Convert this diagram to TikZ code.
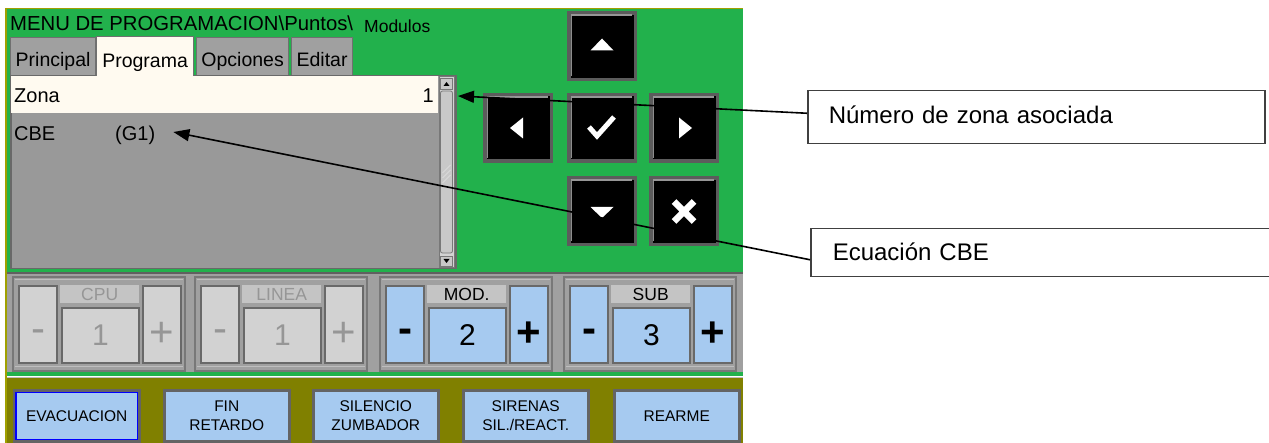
\documentclass[tikz,border=0pt]{standalone}
\usepackage{fontspec}
\setmainfont{Liberation Sans}
\usetikzlibrary{arrows.meta,calc}

\definecolor{panelgreen}{RGB}{34,177,76}
\definecolor{framegold}{RGB}{160,160,0}
\definecolor{olivebg}{RGB}{128,128,0}
\definecolor{listgray}{RGB}{153,153,153}
\definecolor{listedge}{RGB}{105,105,105}
\definecolor{tabgray}{RGB}{160,160,160}
\definecolor{tabedge}{RGB}{112,112,112}
\definecolor{cream}{RGB}{255,250,240}
\definecolor{panelgray}{RGB}{160,160,160}
\definecolor{paneldark}{RGB}{96,96,96}
\definecolor{grpedge}{RGB}{120,120,120}
\definecolor{grplight}{RGB}{190,190,190}
\definecolor{lightblue}{RGB}{166,202,240}
\definecolor{offgray}{RGB}{210,210,210}
\definecolor{offtext}{RGB}{150,150,150}
\definecolor{lblgray}{RGB}{196,196,196}
\definecolor{keyedge}{RGB}{105,105,105}
\definecolor{navedge}{RGB}{92,92,92}
\definecolor{navhi}{RGB}{150,150,150}
\definecolor{btnedge}{RGB}{100,100,100}
\definecolor{sbgray}{RGB}{200,200,200}
\definecolor{sbedge}{RGB}{120,120,120}
\definecolor{calloutedge}{RGB}{64,64,64}

\begin{document}
\begin{tikzpicture}[x=1pt,y=-1pt,
  tabbox/.style={draw=tabedge, line width=1.2pt, fill=tabgray, anchor=north west,
    inner sep=0pt, minimum height=38pt, text height=24pt, text depth=4pt,
    font=\fontsize{19.5}{22}\selectfont},
  rowtext/.style={inner sep=0pt, anchor=base west, font=\fontsize{20}{24}\selectfont},
  navbtn/.style={draw=navedge, fill=black, line width=3.5pt, minimum width=66.5pt,
    minimum height=66.5pt, inner sep=0pt},
  navhl/.style={draw=navhi, line width=2pt},
  navside/.style={draw=navedge!70, line width=1pt},
  grpframe/.style={draw=grpedge, line width=1.5pt, fill=panelgray},
  keybtn/.style={draw=keyedge, line width=2pt, anchor=north west, inner sep=0pt,
    minimum width=38pt, minimum height=77pt},
  capbox/.style={fill=lblgray, anchor=north west, inner sep=0pt, minimum width=79pt,
    minimum height=18pt, font=\fontsize{17.5}{20}\selectfont},
  valbox/.style={draw=keyedge, line width=2pt, anchor=north west, inner sep=0pt,
    minimum width=77pt, minimum height=55pt, font=\fontsize{30}{32}\selectfont},
  signtxt/.style={inner sep=0pt, font=\fontsize{42}{44}\selectfont},
  cmdbtn/.style={draw=btnedge, line width=2.5pt, fill=lightblue, anchor=north west,
    inner sep=0pt, minimum width=125pt, minimum height=50.5pt, align=center,
    font=\fontsize{15.5}{19}\selectfont},
  callout/.style={draw=calloutedge, line width=1.5pt, fill=white, anchor=north west,
    inner ysep=0pt, align=left, font=\fontsize{24}{28}\selectfont},
  conn/.style={line width=1.6pt, -{Triangle[length=16pt,width=12pt]}}
]
\useasboundingbox (0,0) rectangle (1269,443);

% ---------- screen background ----------
\fill[panelgreen] (6,9) rectangle (743,376);
\draw[framegold, line width=1.5pt] (5,8.5) -- (743,8.5);
\draw[framegold, line width=2pt] (6,8) -- (6,443);

% ---------- title ----------
\node[inner sep=0pt, anchor=base west, font=\fontsize{20.3}{24}\selectfont] (title)
  at (10,31) {MENU DE PROGRAMACION\textbackslash Puntos\textbackslash};
\node[inner sep=0pt, anchor=base west, font=\fontsize{17.5}{20}\selectfont] (crumb)
  at (364,33) {Modulos};

% ---------- tabs and list ----------
\node[tabbox, minimum width=85pt] (tprin) at (10,37) {Principal};
\node[tabbox, minimum width=92pt] (topc) at (196,37) {Opciones};
\node[tabbox, minimum width=61pt] (tedit) at (291,37) {Editar};

\node[draw=listedge, line width=1.5pt, fill=listgray, anchor=north west,
  minimum width=445pt, minimum height=193pt, inner sep=0pt] (list) at (10,75) {};
\node[tabbox, fill=cream, minimum width=97pt, minimum height=41pt] (tprog) at (96,36) {Programa};
\fill[cream] (97,73) rectangle (192,79);

\fill[cream] (11,76.5) rectangle (438,113);
\node[rowtext] (zona) at (14,103) {Zona};
\node[rowtext, anchor=base east] (zonaval) at (434,103) {1};
\node[rowtext] (cbe) at (14,141) {CBE};
\node[rowtext] (g1) at (115,141) {(G1)};

% scroll bar
\node[draw=sbedge, line width=1pt, fill=sbgray!80, anchor=north west, inner sep=0pt,
  minimum width=15pt, minimum height=191pt] (sb) at (439,76.5) {};
\draw[sbedge, fill=sbgray, line width=0.8pt] (440.5,78) rectangle (452.5,89);
\fill[black] (443.5,86) -- (449.5,86) -- (446.5,82) -- cycle;
\draw[sbedge, fill=sbgray, line width=0.8pt, rounded corners=2pt] (440.5,91) rectangle (452.5,253);
\foreach \gy in {168,173,178}
  \draw[white!85!black, line width=0.8pt] (442.5,\gy+5) -- (450.5,\gy-3);
\draw[sbedge, fill=sbgray, line width=0.8pt] (440.5,256) rectangle (452.5,266);
\fill[black] (443.5,259) -- (449.5,259) -- (446.5,263) -- cycle;

% ---------- navigation keys ----------
\node[navbtn] (kup) at (602,46.5) {};
\node[navbtn] (kleft) at (518,128) {};
\node[navbtn] (kok) at (602,128) {};
\node[navbtn] (kright) at (684,128) {};
\node[navbtn] (kdown) at (602,211.5) {};
\node[navbtn] (kesc) at (684,211.5) {};
\foreach \k in {kup,kleft,kok,kright,kdown,kesc}{
  \draw[navhl] ([xshift=4pt,yshift=-4pt]\k.north west) -- ([xshift=-5pt,yshift=-4pt]\k.north east);
  \draw[navside] ([xshift=4pt,yshift=-5pt]\k.north west) -- ([xshift=4pt,yshift=5pt]\k.south west);
}
\fill[white] ($(kup)+(-11.5,4)$) -- ($(kup)+(11.5,4)$) -- ($(kup)+(0,-8)$) -- cycle;
\fill[white] ($(kleft)+(5,-10.5)$) -- ($(kleft)+(5,10.5)$) -- ($(kleft)+(-8,0)$) -- cycle;
\fill[white] ($(kright)+(-5,-10.5)$) -- ($(kright)+(-5,10.5)$) -- ($(kright)+(8,0)$) -- cycle;
\fill[white] ($(kdown)+(-11.5,-4.5)$) -- ($(kdown)+(11.5,-4.5)$) -- ($(kdown)+(0,6.5)$) -- cycle;
\draw[white, line width=5pt, line join=miter]
  ($(kok)+(-13,-1)$) -- ($(kok)+(-5,8)$) -- ($(kok)+(12,-11)$);
\draw[white, line width=6.5pt]
  ($(kesc)+(-10,-10)$) -- ($(kesc)+(10,10)$)
  ($(kesc)+(10,-10)$) -- ($(kesc)+(-10,10)$);

% ---------- address selector bar ----------
\fill[panelgray] (7,273) rectangle (743,372);
\draw[paneldark, line width=1.5pt] (7,273) -- (743,273);
\foreach \m/\lab/\val/\fc/\tc/\wt [count=\i] in
  {18/CPU/1/offgray/offtext/\mdseries,
   200/LINEA/1/offgray/offtext/\mdseries,
   385/MOD./2/lightblue/black/\bfseries,
   569/SUB/3/lightblue/black/\bfseries}{
  \draw[grpframe] (\m-5,277) rectangle (\m+167,371);
  \draw[grplight, line width=1pt] (\m-3,279.5) -- (\m+165,279.5);
  \draw[grplight, line width=1pt] (\m-3,366.5) -- (\m+165,366.5);
  \node[keybtn, fill=\fc] (minus\i) at (\m,285) {};
  \node[signtxt, text=\tc, font=\fontsize{42}{44}\selectfont\wt] at ($(minus\i.center)+(0,11.5)$) {-};
  \node[capbox, text=\tc] (cap\i) at (\m+42,285) {\lab};
  \node[valbox, fill=\fc, text=\tc] (val\i) at (\m+43,307) {\val};
  \node[keybtn, fill=\fc] (plus\i) at (\m+124,285) {};
  \node[signtxt, text=\tc, font=\fontsize{42}{44}\selectfont\wt] at ($(plus\i.center)+(0,9.5)$) {+};
}

% ---------- command keys ----------
\draw[white!75!black, line width=1.2pt] (7,377.5) -- (743,377.5);
\fill[olivebg] (7,378.5) rectangle (743,443);
\draw[framegold, line width=2pt] (6,378) -- (6,443);
\foreach \bx/\btxt [count=\j] in
  {13/EVACUACION, 163/{FIN\\RETARDO}, 312/{SILENCIO\\ZUMBADOR},
   462/{SIRENAS\\SIL./REACT.}, 613/REARME}
  \node[cmdbtn] (cmd\j) at (\bx,389.5) {\btxt};
\draw[blue, line width=1.5pt] ([shift={(2.8,2.8)}]cmd1.north west) rectangle ([shift={(-2.8,-2.8)}]cmd1.south east);

% ---------- callouts ----------
\node[callout, text width=415pt, inner xsep=21pt, minimum height=53pt,
  text height=17pt, text depth=4pt] (nz) at (807,90) {Número de zona asociada};
\node[callout, text width=418pt, inner xsep=22pt, minimum height=48pt,
  text height=18pt, text depth=2pt] (ecb) at (810,228) {Ecuación CBE};

\coordinate (zonaTip) at ($(sb.east |- zona.base)+(3,-7)$);
\coordinate (cbeTip) at ($(g1.base east)+(18,-9)$);
\draw[conn] ([yshift=4pt]nz.west) -- (zonaTip);
\draw[conn] ([yshift=-7pt]ecb.west) -- (cbeTip);
\end{tikzpicture}
\end{document}
